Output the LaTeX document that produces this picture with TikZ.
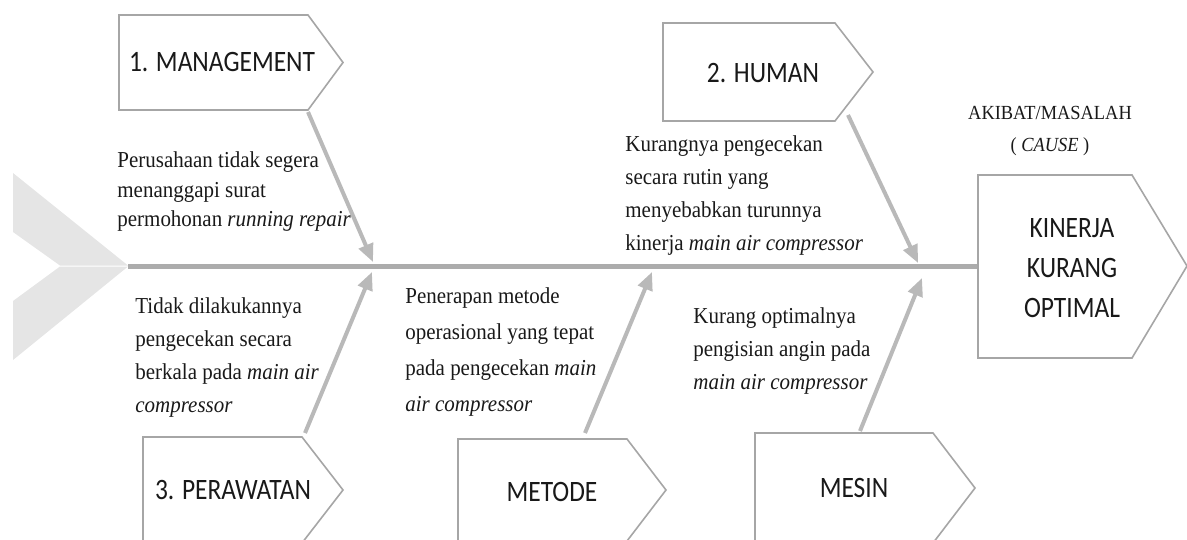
\documentclass[tikz,border=0pt]{standalone}
\usepackage{fontspec}
\setmainfont{Liberation Serif}[FakeStretch=0.92]
\newfontfamily\boxfont[FakeStretch=0.86]{Carlito}
\usepackage{tikz}
\usetikzlibrary{arrows.meta}

\begin{document}
\begin{tikzpicture}
		[x=0.5pt, y=-0.5pt,
		cause box/.style={draw=gray!70, line width=0.8pt, fill=white},
		box label/.style={font=\boxfont\fontsize{14.8}{20}\selectfont, align=center, inner sep=0, text=black!90},
		cause text/.style={anchor=west, align=left, inner sep=0, text=black!90, font=\fontsize{11.4}{#1}\selectfont},
		cause text/.default=16.5,
		bone/.style={draw=gray!55, line width=2pt, -{Triangle[length=9pt,width=7.5pt]}},
		spine/.style={draw=gray!65, line width=2.5pt},
		tail/.style={fill=gray!20, draw=none}]

		\useasboundingbox (0,0) rectangle (1187,540);

		% tail and spine
		\fill[tail] (13,173) -- (128,265.5) -- (60,265.5) -- (13,232) -- cycle;
		\fill[tail] (13,360) -- (128,266.5) -- (60,266.5) -- (13,301) -- cycle;
		\coordinate (tail) at (128,266);
		\coordinate (head) at (978,266);
		\draw[spine] (tail) -- (head);

		% effect
		\draw[cause box] (978,175) -- (1132,175) -- (1187,266) -- (1132,358) -- (978,358) -- cycle;
		\node[box label] (effect) at (1072,268) {KINERJA\\KURANG\\OPTIMAL};
		\node[inner sep=0, align=center, text=black!90, font=\fontsize{10}{16}\selectfont] (problem) at (1050,131) {AKIBAT/MASALAH\\( \textit{CAUSE} )};

		% upper causes
		\draw[cause box] (119,15) -- (308,15) -- (343,62.5) -- (308,110) -- (119,110) -- cycle;
		\node[box label] (mgmt) at (222,62) {1. MANAGEMENT};
		\draw[cause box] (663,23) -- (835,23) -- (873,72) -- (835,121) -- (663,121) -- cycle;
		\node[box label] (human) at (763,73) {2. HUMAN};

		% lower causes
		\draw[cause box] (143,437) -- (302,437) -- (343,490) -- (302,543) -- (143,543) -- cycle;
		\node[box label] (perawatan) at (233,490) {3. PERAWATAN};
		\draw[cause box] (458,439) -- (627,439) -- (666,490) -- (627,541) -- (458,541) -- cycle;
		\node[box label] (metode) at (552,492) {METODE};
		\draw[cause box] (755,433) -- (933,433) -- (975,488) -- (933,543) -- (755,543) -- cycle;
		\node[box label] (mesin) at (854,488) {MESIN};

		% bones
		\coordinate (mgmt-foot) at (308,112);
		\coordinate (mgmt-tip) at (373,262);
		\coordinate (human-foot) at (848,115);
		\coordinate (human-tip) at (918,263);
		\coordinate (perawatan-foot) at (305,433);
		\coordinate (perawatan-tip) at (372,272);
		\coordinate (metode-foot) at (585,433);
		\coordinate (metode-tip) at (652,272);
		\coordinate (mesin-foot) at (860,431);
		\coordinate (mesin-tip) at (922,278);
		\foreach \c in {mgmt, human, perawatan, metode, mesin}
			\draw[bone] (\c-foot) -- (\c-tip);

		% texts
		\node[cause text=14.75] (mgmt-cause) at (117,192) {Perusahaan tidak segera\\menanggapi surat\\permohonan \textit{running repair}};
		\node[cause text] (human-cause) at (625,196) {Kurangnya pengecekan\\secara rutin yang\\menyebabkan turunnya\\kinerja \textit{main air compressor}};
		\node[cause text] (perawatan-cause) at (135,358) {Tidak dilakukannya\\pengecekan secara\\berkala pada \textit{main air}\\\textit{compressor}};
		\node[cause text=18] (metode-cause) at (405,352) {Penerapan metode\\operasional yang tepat\\pada pengecekan \textit{main}\\\textit{air compressor}};
		\node[cause text] (mesin-cause) at (693,351) {Kurang optimalnya\\pengisian angin pada\\\textit{main air compressor}};

	\end{tikzpicture}
\end{document}
